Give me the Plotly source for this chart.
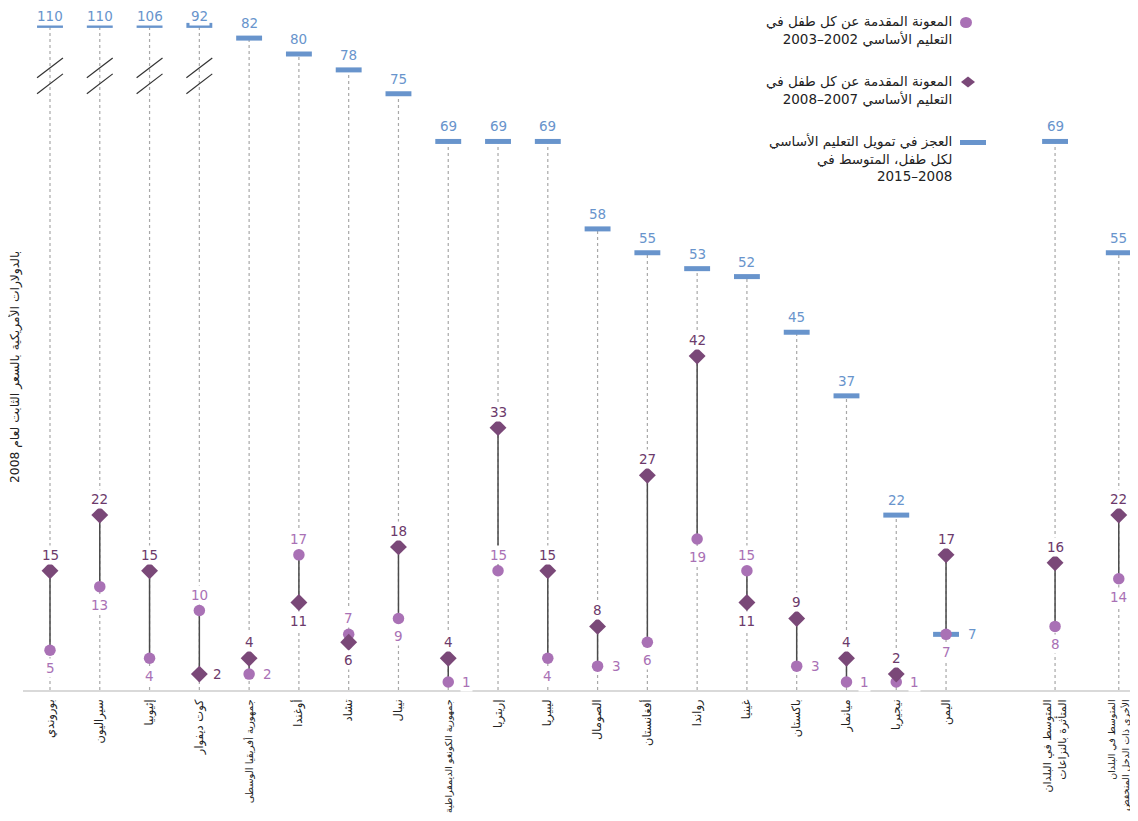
import plotly.graph_objects as go

# ---------------- data ----------------
countries = [
    "بوروندي", "سيراليون", "إثيوبيا", "كوت ديفوار", "جمهورية أفريقيا الوسطى",
    "أوغندا", "تشاد", "نيبال", "جمهورية الكونغو الديمقراطية", "إريتريا",
    "ليبيريا", "الصومال", "أفغانستان", "رواندا", "غينيا", "باكستان",
    "ميانمار", "نيجيريا", "اليمن",
    "المتوسط في البلدان<br>المتأثرة بالنزاعات",
    "المتوسط في البلدان<br>الأخرى ذات الدخل المنخفض",
]
gap_2008_2015 = [110, 110, 106, 92, 82, 80, 78, 75, 69, 69, 69, 58, 55, 53, 52, 45, 37, 22, 7, 69, 55]
aid_2002_2003 = [5, 13, 4, 10, 2, 17, 7, 9, 1, 15, 4, 3, 6, 19, 15, 3, 1, 1, 7, 8, 14]
aid_2007_2008 = [15, 22, 15, 2, 4, 11, 6, 18, 4, 33, 15, 8, 27, 42, 11, 9, 4, 2, 17, 16, 22]

# ---------------- layout / style ----------------
x_positions = list(range(19)) + [20.19, 21.47]
circle_label_pos = ["b", "b", "b", "t", "r", "t", "t", "b", "r", "t", "b", "r", "b", "b", "t", "r", "r", "r", "b", "b", "b"]
diamond_label_pos = ["t", "t", "t", "r", "t", "b", "b", "t", "t", "t", "t", "t", "t", "t", "b", "t", "t", "t", "t", "t", "t"]
gap_label_pos = ["t"] * 18 + ["r", "t", "t"]
BASE_TICK = 11
tick_font_sizes = [11.5, 11.5, 11.5, 11.5, 10, 11.5, 11.5, 11.5, 9.5] + [11.5] * 10 + [11, 9.5]

CAP = 83.6  # values above this are drawn at the axis break
BODY = 8    # default page margin around the figure
PAGE_W, PAGE_H = 1138, 821
W, H = PAGE_W - BODY, PAGE_H - 2 * BODY
PLOT_LEFT, PLOT_RIGHT = 23, 1138          # page pixels
PLOT_TOP, PLOT_BOTTOM = 8, 690            # page pixels
L = PLOT_LEFT - BODY
T = PLOT_TOP - BODY
PW = PLOT_RIGHT - PLOT_LEFT
PH = PLOT_BOTTOM - PLOT_TOP
B = H - T - PH
UNIT_PX = 7.95
Y_MAX = PH / UNIT_PX
X_UNIT = 49.78
X_MIN = -(50 - PLOT_LEFT) / X_UNIT
X_MAX = X_MIN + PW / X_UNIT

BLUE = "#6894cc"
LIGHT = "#a971b5"
DARK = "#7a4878"
DARK_TXT = "#6c3a6b"
FONT = "DejaVu Sans"

disp_gap = [min(g, CAP) for g in gap_2008_2015]

fig = go.Figure()

# dotted guide lines
dx, dy = [], []
for x, g, a, d in zip(x_positions, disp_gap, aid_2002_2003, aid_2007_2008):
    dx += [x, x, None]
    dy += [0, max(g, a, d), None]
fig.add_trace(go.Scatter(x=dx, y=dy, mode="lines",
                         line=dict(color="#a8a8a8", width=1.2, dash="dot"),
                         hoverinfo="skip"))

# connectors
cx, cy = [], []
for x, a, d in zip(x_positions, aid_2002_2003, aid_2007_2008):
    cx += [x, x, None]
    cy += [a, d, None]
fig.add_trace(go.Scatter(x=cx, y=cy, mode="lines",
                         line=dict(color="#4a4a4a", width=1.5), hoverinfo="skip"))

# gap bars
fig.add_trace(go.Scatter(x=x_positions, y=disp_gap, mode="markers",
                         marker=dict(symbol="line-ew", size=18.5,
                                     line=dict(width=5, color=BLUE)),
                         cliponaxis=False, hoverinfo="skip"))
# circles and diamonds
fig.add_trace(go.Scatter(x=x_positions, y=aid_2002_2003, mode="markers",
                         marker=dict(symbol="circle", size=11.5, color=LIGHT),
                         cliponaxis=False, hoverinfo="skip"))
fig.add_trace(go.Scatter(x=x_positions, y=aid_2007_2008, mode="markers",
                         marker=dict(symbol="diamond", size=13, color=DARK),
                         cliponaxis=False, hoverinfo="skip"))

annotations = []


def add_label(x, y, text, pos, color, right_shift=12, up=16, down=18):
    xs, ys = 0, 0
    if pos == "t":
        ys = up
    elif pos == "b":
        ys = -down
    else:
        xs = right_shift
    annotations.append(dict(
        x=x, y=y, xref="x", yref="y", text=str(text),
        showarrow=False, xshift=xs, yshift=ys, xanchor="left" if pos == "r" else "center",
        font=dict(family=FONT, size=13.5, color=color), bgcolor="white", borderpad=1))


for i, x in enumerate(x_positions):
    add_label(x, aid_2002_2003[i], aid_2002_2003[i], circle_label_pos[i], LIGHT)
    add_label(x, aid_2007_2008[i], aid_2007_2008[i], diamond_label_pos[i], DARK_TXT)
    up = 9.5 if gap_2008_2015[i] > CAP else 15
    add_label(x, disp_gap[i], gap_2008_2015[i], gap_label_pos[i], BLUE, up=up, right_shift=20)

shapes = []
# axis-break marks
for x, g in zip(x_positions, gap_2008_2015):
    if g > CAP:
        for y0, y1 in [(77.0, 79.5), (75.0, 77.5)]:
            shapes.append(dict(type="line", xref="x", yref="y", x0=x - 0.26, x1=x + 0.26,
                               y0=y0, y1=y1, line=dict(color="#333333", width=1.2)))


def px(xp):
    return (xp - PLOT_LEFT) / PW


def py(yp):
    return (PLOT_BOTTOM - yp) / PH


# custom right-to-left legend
shapes.append(dict(type="circle", xref="paper", yref="paper",
                   x0=px(960), x1=px(972), y0=py(28), y1=py(17),
                   fillcolor=LIGHT, line=dict(width=0)))
shapes.append(dict(type="path", xref="paper", yref="paper",
                   path=f"M {px(961)} {py(82)} L {px(968)} {py(76.5)} L {px(975)} {py(82)} L {px(968)} {py(87.5)} Z",
                   fillcolor=DARK, line=dict(width=0)))
shapes.append(dict(type="rect", xref="paper", yref="paper",
                   x0=px(960), x1=px(986), y0=py(145), y1=py(140),
                   fillcolor=BLUE, line=dict(width=0)))

legend_texts = [
    ("المعونة المقدمة عن كل طفل في<br>التعليم الأساسي 2002–2003", 11),
    ("المعونة المقدمة عن كل طفل في<br>التعليم الأساسي 2007–2008", 71),
    ("العجز في تمويل التعليم الأساسي<br>لكل طفل، المتوسط في<br>2015–2008", 131),
]
for txt, top in legend_texts:
    annotations.append(dict(x=px(954), y=py(top), xref="paper", yref="paper",
                            xanchor="right", yanchor="top", align="right", text=txt,
                            showarrow=False,
                            font=dict(family=FONT, size=13.5, color="#222222")))

# y axis title
annotations.append(dict(x=px(15), y=py(367), xref="paper", yref="paper",
                        xanchor="center", yanchor="middle",
                        text="بالدولارات الأمريكية بالسعر الثابت لعام 2008",
                        textangle=-90, showarrow=False,
                        font=dict(family=FONT, size=12.3, color="#222222")))

tick_text = [c if s == BASE_TICK else f'<span style="font-size:{s}px">{c}</span>'
             for c, s in zip(countries, tick_font_sizes)]

fig.update_layout(
    width=W, height=H,
    margin=dict(l=L, r=0, t=T, b=B, pad=0, autoexpand=False),
    plot_bgcolor="white", paper_bgcolor="white",
    showlegend=False,
    hovermode=False,
    annotations=annotations,
    shapes=shapes,
    xaxis=dict(range=[X_MIN, X_MAX], tickvals=x_positions, ticktext=tick_text,
               tickangle=-90, showgrid=False, zeroline=False, automargin=False,
               showline=True, linecolor="#d9d9d9", linewidth=2, ticks="",
               ticklabelstandoff=3,
               tickfont=dict(family=FONT, size=BASE_TICK, color="#222222")),
    yaxis=dict(range=[0, Y_MAX], showgrid=False, zeroline=False, automargin=False,
               showticklabels=False, ticks="", showline=False),
)

fig.write_html("out.html")
